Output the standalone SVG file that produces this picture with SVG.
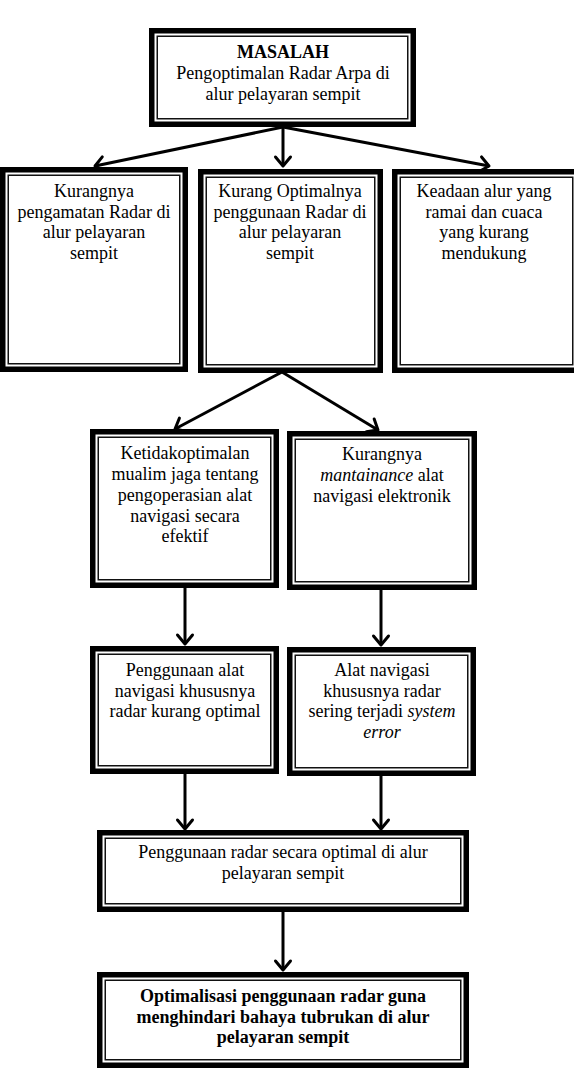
<svg xmlns="http://www.w3.org/2000/svg" width="574" height="1079" viewBox="0 0 574 1079">
<defs>
<style>
.o{fill:#fff;stroke:#000;stroke-width:5.5}
.i{fill:none;stroke:#111;stroke-width:1.5}
text{font-family:'Liberation Serif','DejaVu Serif',serif;font-size:18px;fill:#000;text-anchor:middle}
.b{font-weight:bold}
.it{font-style:italic}
.c{stroke:#000;stroke-width:3;fill:none}
</style>
<marker id="ah" markerUnits="userSpaceOnUse" markerWidth="24" markerHeight="24" viewBox="-12 -12 24 24" refX="0" refY="0" orient="auto">
<path d="M-9,-7.5 L0,0 L-9,7.5" fill="none" stroke="#000" stroke-width="3" stroke-linejoin="round" stroke-linecap="round"/>
</marker>
</defs>
<g id="connectors">
<line class="c" x1="283" y1="127" x2="95" y2="166" marker-end="url(#ah)"/>
<line class="c" x1="283" y1="127" x2="283" y2="166" marker-end="url(#ah)"/>
<line class="c" x1="283" y1="127" x2="489" y2="166" marker-end="url(#ah)"/>
<line class="c" x1="282" y1="372" x2="175" y2="429" marker-end="url(#ah)"/>
<line class="c" x1="282" y1="372" x2="378" y2="430" marker-end="url(#ah)"/>
<line class="c" x1="185" y1="588" x2="185" y2="644" marker-end="url(#ah)"/>
<line class="c" x1="381" y1="590" x2="381" y2="645" marker-end="url(#ah)"/>
<line class="c" x1="185" y1="774" x2="185" y2="829" marker-end="url(#ah)"/>
<line class="c" x1="381" y1="776" x2="381" y2="829" marker-end="url(#ah)"/>
<line class="c" x1="283" y1="912" x2="283" y2="970" marker-end="url(#ah)"/>
</g>
<g id="masalah">
<rect class="o" x="151.75" y="30.75" width="261.5" height="93.5"/>
<rect class="i" x="157.25" y="36.25" width="250.5" height="82.5"/>
<text class="b" x="283" y="58">MASALAH</text>
<text x="283" y="79">Pengoptimalan Radar Arpa di</text>
<text x="283" y="100">alur pelayaran sempit</text>
</g>
<g id="kurangnya-pengamatan">
<rect class="o" x="2.75" y="169.75" width="182.5" height="199.5"/>
<rect class="i" x="8.25" y="175.25" width="171.5" height="188.5"/>
<text x="94" y="197">Kurangnya</text>
<text x="94" y="217.5">pengamatan Radar di</text>
<text x="94" y="238">alur pelayaran</text>
<text x="94" y="258.5">sempit</text>
</g>
<g id="kurang-optimalnya">
<rect class="o" x="200.75" y="171.75" width="179.5" height="198.5"/>
<rect class="i" x="206.25" y="177.25" width="168.5" height="187.5"/>
<text x="290" y="197">Kurang Optimalnya</text>
<text x="290" y="217.5">penggunaan Radar di</text>
<text x="290" y="238">alur pelayaran</text>
<text x="290" y="258.5">sempit</text>
</g>
<g id="keadaan-alur">
<rect class="o" x="394.75" y="171.75" width="183.5" height="198.5"/>
<rect class="i" x="400.25" y="177.25" width="172.5" height="187.5"/>
<text x="484" y="197">Keadaan alur yang</text>
<text x="484" y="217.5">ramai dan cuaca</text>
<text x="484" y="238">yang kurang</text>
<text x="484" y="258.5">mendukung</text>
</g>
<g id="ketidakoptimalan">
<rect class="o" x="92.75" y="431.75" width="183.5" height="153.5"/>
<rect class="i" x="98.25" y="437.25" width="172.5" height="142.5"/>
<text x="185" y="459">Ketidakoptimalan</text>
<text x="185" y="480">mualim jaga tentang</text>
<text x="185" y="501">pengoperasian alat</text>
<text x="185" y="521.5">navigasi secara</text>
<text x="185" y="542">efektif</text>
</g>
<g id="kurangnya-maintenance">
<rect class="o" x="289.75" y="433.75" width="184.5" height="153.5"/>
<rect class="i" x="295.25" y="439.25" width="173.5" height="142.5"/>
<text x="382" y="460">Kurangnya</text>
<text x="382" y="481"><tspan class="it">mantainance</tspan> alat</text>
<text x="382" y="502">navigasi elektronik</text>
</g>
<g id="penggunaan-alat">
<rect class="o" x="92.75" y="648.75" width="183.5" height="122.5"/>
<rect class="i" x="98.25" y="654.25" width="172.5" height="111.5"/>
<text x="185" y="676">Penggunaan alat</text>
<text x="185" y="696.5">navigasi khususnya</text>
<text x="185" y="717">radar kurang optimal</text>
</g>
<g id="alat-navigasi">
<rect class="o" x="289.75" y="649.75" width="183.5" height="123.5"/>
<rect class="i" x="295.25" y="655.25" width="172.5" height="112.5"/>
<text x="382" y="676">Alat navigasi</text>
<text x="382" y="696.5">khususnya radar</text>
<text x="382" y="717">sering terjadi <tspan class="it">system</tspan></text>
<text x="382" y="737.5" class="it">error</text>
</g>
<g id="penggunaan-radar">
<rect class="o" x="99.75" y="832.75" width="366.5" height="76.5"/>
<rect class="i" x="105.25" y="838.25" width="355.5" height="65.5"/>
<text x="283" y="858">Penggunaan radar secara optimal di alur</text>
<text x="283" y="879">pelayaran sempit</text>
</g>
<g id="optimalisasi">
<rect class="o" x="99.75" y="974.75" width="366.5" height="90.5"/>
<rect class="i" x="105.25" y="980.25" width="355.5" height="79.5"/>
<text class="b" x="283" y="1002">Optimalisasi penggunaan radar guna</text>
<text class="b" x="283" y="1022.5">menghindari bahaya tubrukan di alur</text>
<text class="b" x="283" y="1043">pelayaran sempit</text>
</g>
</svg>
